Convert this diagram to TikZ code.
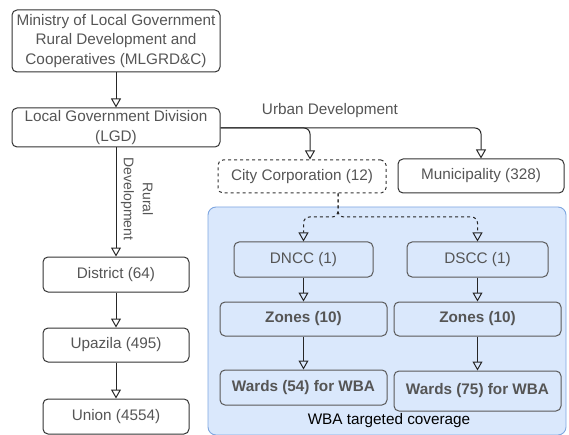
\documentclass[tikz,border=0pt]{standalone}
\usepackage{fontspec}
\setmainfont{Liberation Sans}
\usetikzlibrary{arrows.meta}
\definecolor{txt}{HTML}{555555}
\definecolor{bord}{HTML}{333333}
\definecolor{bluefill}{HTML}{DAE8FC}
\definecolor{blueline}{HTML}{7EA6E0}
\tikzset{
  box/.style={draw=bord, line width=1pt, rounded corners=5pt, text=txt, font=\fontsize{15.3}{19.5}\selectfont, align=center, inner sep=0pt},
  ibox/.style={box, draw=black!65},
  bbox/.style={ibox, font=\fontsize{15.3}{17}\selectfont\bfseries},
  conn/.style={draw=black!85, line width=1pt, -{Triangle[open, width=10pt, length=9pt]}, rounded corners=6pt},
  lbl/.style={text=txt, font=\fontsize{15.3}{17}\selectfont, fill=white, inner sep=1pt},
}
\begin{document}
\begin{tikzpicture}[x=1pt, y=-1pt]
\useasboundingbox (0,0) rectangle (569,435);
% blue region
\node[draw=blueline, fill=bluefill, line width=0.9pt, rounded corners=8pt, minimum width=358pt, minimum height=228pt, inner sep=0pt] (region) at (387,321) {};
\node[font=\fontsize{15.3}{17}\selectfont, text=black] (cov) at (389,421) {WBA targeted coverage};

\node[box, minimum width=208pt, minimum height=62pt] (min) at (116,41) {Ministry of Local Government\\Rural Development and\\Cooperatives (MLGRD\&C)};
\node[box, minimum width=208pt, minimum height=39pt] (lgd) at (116,127.5) {Local Government Division\\(LGD)};

\node[box, minimum width=146pt, minimum height=35pt] (dist) at (116,274.5) {District (64)};
\node[box, minimum width=146pt, minimum height=34pt] (upa) at (116,345) {Upazila (495)};
\node[box, minimum width=146pt, minimum height=35pt] (uni) at (116,416.5) {Union (4554)};

\node[box, dashed, minimum width=168pt, minimum height=33pt] (city) at (302,176.5) {City Corporation (12)};
\node[box, minimum width=166pt, minimum height=34pt] (mun) at (481,176) {Municipality (328)};

\node[ibox, minimum width=139pt, minimum height=35pt] (dncc) at (303.5,259.5) {DNCC (1)};
\node[ibox, minimum width=141pt, minimum height=35pt] (dscc) at (477.5,259.5) {DSCC (1)};
\node[bbox, minimum width=167pt, minimum height=34pt] (zl) at (303.5,319) {Zones (10)};
\node[bbox, minimum width=167pt, minimum height=34pt] (zr) at (477.5,319) {Zones (10)};
\node[bbox, minimum width=167pt, minimum height=35pt] (wl) at (303.5,387.5) {Wards (54) for WBA};
\node[bbox, minimum width=167pt, minimum height=40pt] (wr) at (477.5,391) {Wards (75) for WBA};

% connectors
\draw[conn] (min) -- (lgd);
\draw[conn] (lgd) -- (dist);
\node[lbl, rotate=-90, align=center, font=\fontsize{14}{19}\selectfont] (rural) at (137,199) {Rural\\Development};
\draw[conn] (dist) -- (upa);
\draw[conn] (upa) -- (uni);

\coordinate (split) at (310,128);
\draw[conn] (lgd.east |- split) -- (split -| mun) -- (mun.north);
\draw[conn] (lgd.east |- split) -- (split) -- (split |- city.north);
\node[lbl] (urban) at (330,111) {Urban Development};

\coordinate (dsplit) at (338,217);
\draw[conn, dashed] (city.south -| dsplit) -- (dsplit) -- (dsplit -| dncc) -- (dncc.north);
\draw[conn, dashed] (city.south -| dsplit) -- (dsplit) -- (dsplit -| dscc) -- (dscc.north);

\draw[conn] (dncc) -- (zl);
\draw[conn] (dscc) -- (zr);
\draw[conn] (zl) -- (wl);
\draw[conn] (zr) -- (wr);
\end{tikzpicture}
\end{document}
